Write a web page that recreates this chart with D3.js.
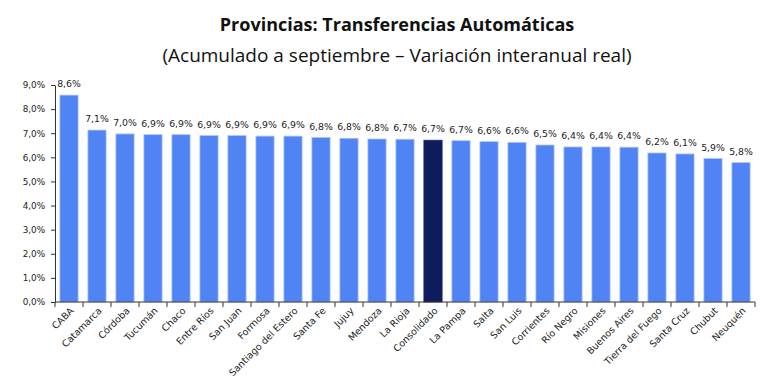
<!DOCTYPE html>
<html>
<head>
<meta charset="utf-8">
<script src="https://cdn.jsdelivr.net/npm/d3@7"></script>
<style>
  html, body { margin: 0; padding: 0; background: #fff; overflow: hidden; }
  svg { display: block; }
  .title { font-family: "Open Sans", sans-serif; font-weight: bold; }
  .sub { font-family: "Open Sans", sans-serif; }
  .axis text { font-family: "DejaVu Sans", sans-serif; font-size: 9.5px; fill: #222; }
  .axis.y text { font-size: 8.8px; }
  .axis path, .axis line { stroke: #333; }
  .lbl { font-family: "DejaVu Sans", sans-serif; font-size: 9.3px; fill: #222; }
</style>
</head>
<body>
<svg id="chart" width="770" height="390"></svg>
<script>
var provincias = ["CABA", "Catamarca", "Córdoba", "Tucumán", "Chaco", "Entre Ríos", "San Juan",
  "Formosa", "Santiago del Estero", "Santa Fe", "Jujuy", "Mendoza", "La Rioja", "Consolidado",
  "La Pampa", "Salta", "San Luis", "Corrientes", "Río Negro", "Misiones", "Buenos Aires",
  "Tierra del Fuego", "Santa Cruz", "Chubut", "Neuquén"];
var variacion = [8.58, 7.13, 6.97, 6.94, 6.94, 6.90, 6.90, 6.88, 6.88, 6.82, 6.79, 6.76, 6.75,
  6.71, 6.69, 6.65, 6.62, 6.51, 6.43, 6.43, 6.42, 6.18, 6.14, 5.95, 5.78];
var etiquetas = ["8,6%", "7,1%", "7,0%", "6,9%", "6,9%", "6,9%", "6,9%", "6,9%", "6,9%", "6,8%",
  "6,8%", "6,8%", "6,7%", "6,7%", "6,7%", "6,6%", "6,6%", "6,5%", "6,4%", "6,4%", "6,4%",
  "6,2%", "6,1%", "5,9%", "5,8%"];
var yTicks = [0, 1, 2, 3, 4, 5, 6, 7, 8, 9];

function drawChart() {
  var margin = {top: 85, right: 15, bottom: 88, left: 55},
      width = 770,
      height = 390,
      plotW = width - margin.left - margin.right,
      plotH = height - margin.top - margin.bottom;

  var data = provincias.map(function(p, i) { return {name: p, value: variacion[i], label: etiquetas[i]}; });

  var svg = d3.select("#chart");

  svg.append("text").attr("class", "title")
      .attr("x", 397).attr("y", 31).attr("text-anchor", "middle")
      .attr("font-size", "18px").attr("fill", "#111")
      .text("Provincias: Transferencias Automáticas");
  svg.append("text").attr("class", "sub")
      .attr("x", 397).attr("y", 62).attr("text-anchor", "middle")
      .attr("font-size", "19px").attr("fill", "#111")
      .text("(Acumulado a septiembre – Variación interanual real)");

  var g = svg.append("g").attr("transform", "translate(" + margin.left + "," + margin.top + ")");

  var x = d3.scaleBand().domain(provincias).range([0, plotW]).paddingInner(0.35).paddingOuter(0.175),
      y = d3.scaleLinear().domain([0, 9]).range([plotH, 0]);

  // y axis
  g.append("g").attr("class", "axis y")
      .call(d3.axisLeft(y).tickValues(yTicks).tickSize(4).tickSizeOuter(0)
        .tickFormat(function(d) { return d3.format(".1f")(d).replace(".", ",") + "%"; }))
      .call(function(a) { a.selectAll("text").attr("dx", "-3"); });

  // bars
  g.selectAll(".bar").data(data).enter().append("rect")
      .attr("class", "bar")
      .attr("x", function(d) { return x(d.name); })
      .attr("y", function(d) { return y(d.value); })
      .attr("width", x.bandwidth())
      .attr("height", function(d) { return plotH - y(d.value); })
      .attr("fill", function(d) { return d.name === "Consolidado" ? "#0e1c5e" : "#5083f3"; })
      .attr("stroke", function(d) { return d.name === "Consolidado" ? "#1a2a70" : "#a9c4fb"; })
      .attr("stroke-width", 0.8);

  // value labels
  g.selectAll(".lbl").data(data).enter().append("text")
      .attr("class", "lbl")
      .attr("x", function(d) { return x(d.name) + x.bandwidth() / 2; })
      .attr("y", function(d) { return y(d.value) - 8; })
      .attr("text-anchor", "middle")
      .text(function(d) { return d.label; });

  // x axis with ticks at band boundaries
  var xa = g.append("g").attr("class", "axis x")
      .attr("transform", "translate(0," + plotH + ")");
  xa.append("line").attr("x1", 0).attr("x2", plotW).attr("y1", 0).attr("y2", 0);
  var step = x.step();
  var bounds = provincias.map(function(p) { return x(p) - x.paddingInner() * step / 2; });
  bounds.push(plotW);
  xa.selectAll(".tk").data(bounds).enter().append("line")
      .attr("x1", function(d) { return d; }).attr("x2", function(d) { return d; })
      .attr("y1", 0).attr("y2", 5);
  xa.selectAll(".cat").data(provincias).enter().append("text")
      .attr("transform", function(d) {
        return "translate(" + (x(d) + x.bandwidth() / 2 + 3) + ",7) rotate(-45)";
      })
      .attr("text-anchor", "end")
      .attr("dy", "0.35em")
      .text(function(d) { return d; });
}

drawChart();
</script>
</body>
</html>
